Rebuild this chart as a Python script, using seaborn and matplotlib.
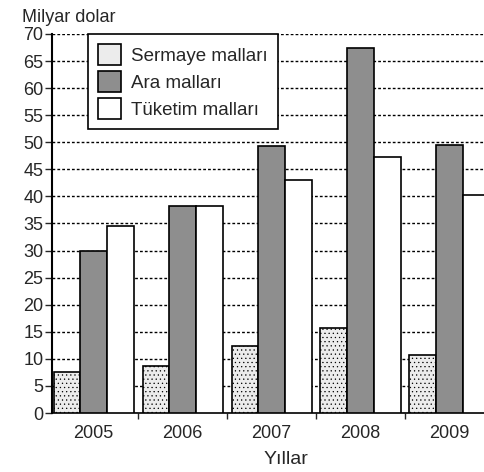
import seaborn as sns
import matplotlib.pyplot as plt
from matplotlib.ticker import MultipleLocator, FixedLocator
import pandas as pd

yillar = ['2005', '2006', '2007', '2008', '2009']
sermaye = [7.5, 8.7, 12.3, 15.7, 10.8]
ara = [30, 38.2, 49.3, 67.5, 49.5]
tuketim = [34.5, 38.2, 43, 47.3, 40.3]
seriler = ['Sermaye malları', 'Ara malları', 'Tüketim malları']

tablo = pd.DataFrame({'Yıl': yillar * 3,
                      'Tür': [s for s in seriler for _ in yillar],
                      'Değer': sermaye + ara + tuketim})

sns.set_style('white')
plt.rcParams['font.family'] = ['Liberation Sans', 'DejaVu Sans']
plt.rcParams['hatch.color'] = '#c4c4c4'
plt.rcParams['hatch.linewidth'] = 0.4

fig = plt.figure(figsize=(4.85, 4.72), dpi=100)
ax = fig.add_axes([0.107, 0.125, 0.893, 0.803])

renkler = {'Sermaye malları': '#ececec', 'Ara malları': '#8e8e8e', 'Tüketim malları': '#ffffff'}
sns.barplot(data=tablo, x='Yıl', y='Değer', hue='Tür', palette=renkler,
            width=0.9, edgecolor='black', linewidth=1.2, saturation=1, ax=ax, zorder=3)

# doku
for bar_grubu, desen in zip(ax.containers, ['....', '', '']):
    for b in bar_grubu:
        b.set_hatch(desen)

ax.set_ylim(0, 70)
ax.set_xlim(-0.47, 4.4)
ax.yaxis.set_major_locator(MultipleLocator(5))
ax.yaxis.grid(True, linestyle=(0, (2, 1.5)), color='black', linewidth=1)
ax.set_axisbelow(True)

for k in ['top', 'right']:
    ax.spines[k].set_visible(False)
ax.spines['left'].set_linewidth(1.5)
ax.spines['bottom'].set_linewidth(1.2)
ax.spines['left'].set_color('black')
ax.spines['bottom'].set_color('black')

ax.tick_params(axis='y', left=True, length=5, width=1, labelsize=13, pad=1)
ax.tick_params(axis='x', bottom=False, labelsize=13, pad=5)
ax.xaxis.set_minor_locator(FixedLocator([0.5, 1.5, 2.5, 3.5]))
ax.tick_params(axis='x', which='minor', bottom=True, length=4, width=1, direction='out')

ax.set_xlabel('Yıllar', fontsize=14)
ax.xaxis.set_label_coords(0.54, -0.1)
ax.set_ylabel('')
fig.text(0.045, 0.963, 'Milyar dolar', fontsize=13, ha='left', va='center')

leg = ax.legend(loc='upper left', bbox_to_anchor=(0.083, 1.0), borderaxespad=0,
                fontsize=13.5, frameon=True, fancybox=False, edgecolor='black',
                framealpha=1, handlelength=1.2, handleheight=1.3, labelspacing=0.35,
                borderpad=0.55, handletextpad=0.55)
leg.get_frame().set_linewidth(1.2)
leg.set_zorder(5)

fig.savefig('out.png', dpi=100)
